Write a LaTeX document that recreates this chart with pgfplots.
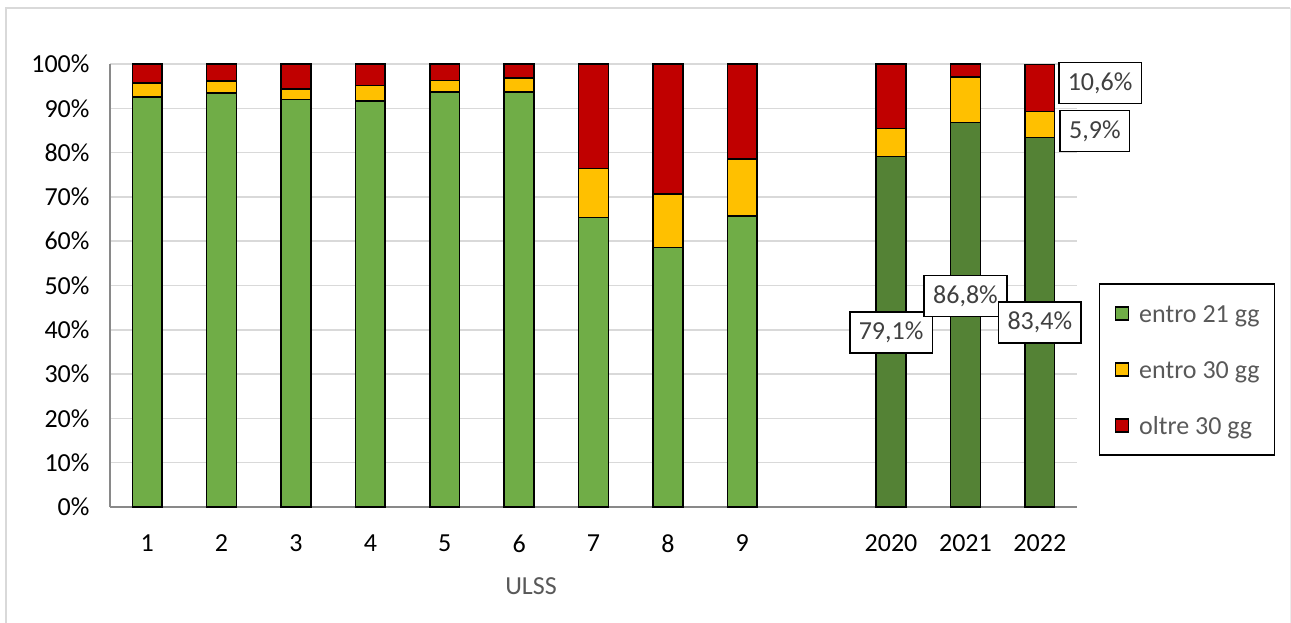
\documentclass[border=0pt]{standalone}
\usepackage{pgfplots}
\pgfplotsset{compat=1.18}
\usepackage{pgfplotstable}
\usepackage{fontspec}
\setmainfont{Carlito}

\definecolor{gUlss}{HTML}{70AD47}
\definecolor{gYear}{HTML}{548235}
\definecolor{cYel}{HTML}{FFC000}
\definecolor{cRed}{HTML}{C00000}
\definecolor{gridc}{HTML}{D9D9D9}
\definecolor{axisc}{HTML}{898989}
\definecolor{txtgray}{HTML}{595959}
\definecolor{lblgray}{HTML}{404040}

% share of cases by waiting time, per ULSS (0-8) and per year (10-12)
\pgfplotstableread{
x   green  yellow red
0   92.6   3.1    4.3
1   93.5   2.7    3.8
2   92.0   2.4    5.6
3   91.7   3.4    4.9
4   93.7   2.6    3.7
5   93.7   3.1    3.2
6   65.4   11.0   23.6
7   58.6   12.1   29.3
8   65.7   12.8   21.5
10  79.1   6.3    14.6
11  86.8   10.3   2.9
12  83.4   5.9    10.6
}\datatable

\pgfplotstableread{
x   green
10  79.1
11  86.8
12  83.4
}\yeartable

\newcommand{\fs}{\fontsize{26bp}{31bp}\selectfont}

\begin{document}
\begin{tikzpicture}[x=1bp,y=1bp]
\path[use as bounding box] (0,0) rectangle (1291,-623);
\fill[white] (0,0) rectangle (1291,-623);
\draw[gridc, line width=1.5bp] (6,-623) -- (6,-8) -- (1290,-8);
\draw[gridc!50, line width=1bp] (1290,-8) -- (1290,-623);

\begin{axis}[
  at={(110bp,-507bp)}, anchor=south west,
  width=967bp, height=443bp, scale only axis,
  xmin=-0.5, xmax=12.5, ymin=0, ymax=100,
  ybar stacked, bar width=0.4,
  axis x line*=bottom, axis y line*=left,
  axis line style={axisc, line width=1.5bp},
  major tick length=0pt,
  ymajorgrids, grid style={gridc, line width=1.5bp},
  ytick={0,10,...,100},
  yticklabels={0\%,10\%,20\%,30\%,40\%,50\%,60\%,70\%,80\%,90\%,100\%},
  xtick={0,1,2,3,4,5,6,7,8,10,11,12},
  xticklabels={1,2,3,4,5,6,7,8,9,2020,2021,2022},
  tick label style={font=\fs, text=black},
  yticklabel style={xshift=-17bp},
  xticklabel style={yshift=-24bp},
  xlabel={ULSS},
  xlabel style={font=\fs, text=txtgray, at={(axis description cs:0.4354,0)}, anchor=center, yshift=-79bp},
  clip=false,
  legend style={
    at={(axis description cs:1.0227,0.5056)}, anchor=north west,
    draw=black, line width=1.5bp, fill=white,
    font=\fs, text=txtgray,
    inner xsep=15bp, inner ysep=14bp,
    row sep=25bp, column sep=10bp,
    nodes={inner sep=0bp, text height=25bp, text depth=6bp},
  },
  legend cell align=left,
  legend image code/.code={\draw[#1, line width=1.5bp] (0bp,-6.5bp) rectangle (13bp,6.5bp);},
]
\addplot[fill=gUlss, draw=black, line width=1.5bp] table[x=x, y=green] {\datatable};
\addlegendentry{entro 21 gg}
\addplot[fill=cYel, draw=black, line width=1.5bp] table[x=x, y=yellow] {\datatable};
\addlegendentry{entro 30 gg}
\addplot[fill=cRed, draw=black, line width=1.5bp] table[x=x, y=red] {\datatable};
\addlegendentry{oltre 30 gg}
\end{axis}

\begin{axis}[
  at={(110bp,-507bp)}, anchor=south west,
  width=967bp, height=443bp, scale only axis,
  xmin=-0.5, xmax=12.5, ymin=0, ymax=100,
  hide axis, clip=false,
  ybar, bar width=0.4,
]
\addplot[fill=gYear, draw=black, line width=1.5bp] table[x=x, y=green] {\yeartable};
\tikzset{lbl/.style={draw=black, line width=1.5bp, fill=white, text=lblgray, font=\fs,
  inner xsep=9bp, inner ysep=0bp, minimum height=41bp, anchor=center}}
\node[lbl] at (axis cs:10,39.4) {79,1\%};
\node[lbl] at (axis cs:11,47.6) {86,8\%};
\node[lbl] at (axis cs:12,41.6) {83,4\%};
\node[lbl] at (axis cs:12.81,95.7) {10,6\%};
\node[lbl] at (axis cs:12.74,84.9) {5,9\%};
\end{axis}
\end{tikzpicture}
\end{document}
